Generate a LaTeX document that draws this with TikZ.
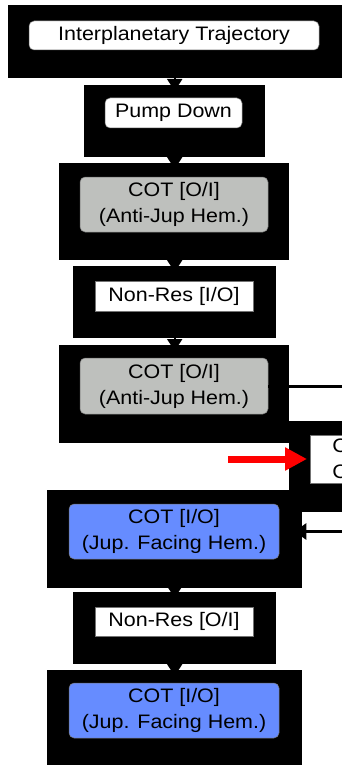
\documentclass[tikz,border=0pt]{standalone}
\usepackage{fontspec}
\setmainfont{Liberation Sans}[FakeStretch=1.1]
\usetikzlibrary{arrows.meta}
\definecolor{hemgrey}{RGB}{190,192,189}
\definecolor{hemblue}{RGB}{102,140,255}
\begin{document}
\begin{tikzpicture}[x=1pt,y=-1pt,
  blk/.style={fill=black, draw=none, inner sep=0pt, anchor=north west},
  txt/.style={font=\fontsize{19.5}{26}\selectfont, align=center, inner sep=0pt},
  rbox/.style={txt, rounded corners=5pt, fill=white, draw=black!55, line width=0.5pt},
  sbox/.style={txt, fill=white, draw=black!55, line width=0.5pt},
  greybox/.style={rbox, fill=hemgrey},
  bluebox/.style={rbox, fill=hemblue},
  flow/.style={line width=2pt, -{Triangle[length=12pt,width=15pt]}, shorten >=-6pt},
  link/.style={line width=3pt},
  back/.style={line width=3pt, -{Triangle[length=12pt,width=16pt]}, shorten >=-8pt},
  jump/.style={red, line width=7pt, -{Triangle[length=22pt,width=22pt]}, shorten >=3pt}]
\useasboundingbox (0,0) rectangle (341,765);

% black backing blocks
\node[blk, minimum width=337, minimum height=73] (b1) at (8,5) {};
\node[blk, minimum width=181, minimum height=72] (b2) at (84,85) {};
\node[blk, minimum width=230, minimum height=97] (b3) at (59,163) {};
\node[blk, minimum width=203, minimum height=72] (b4) at (73,266) {};
\node[blk, minimum width=230, minimum height=98] (b5) at (59,345) {};
\node[blk, minimum width=56,  minimum height=91] (b6) at (289,421) {};
\node[blk, minimum width=255, minimum height=98] (b7) at (47,490) {};
\node[blk, minimum width=203, minimum height=72] (b8) at (73,592) {};
\node[blk, minimum width=255, minimum height=97] (b9) at (47,670) {};

% flow between the stacked blocks
\draw[flow] (b1.south -| b2.north) -- (b2.north);
\draw[flow] (b2.south) -- (b3.north -| b2.south);
\draw[flow] (b3.south -| b4.north) -- (b4.north);
\draw[flow] (b4.south) -- (b5.north -| b4.south);
\draw[flow] (b7.south -| b8.north) -- (b8.north);
\draw[flow] (b8.south) -- (b9.north -| b8.south);

% inner boxes
\node[rbox, minimum width=290, minimum height=29] (n1) at (174,35.5) {Interplanetary Trajectory};
\node[rbox, minimum width=137, minimum height=30] (n2) at (173.5,113) {Pump Down};
\node[greybox, minimum width=188, minimum height=55] (n3) at (174,204.5) {COT [O/I]\\(Anti-Jup Hem.)};
\node[sbox, minimum width=158, minimum height=30] (n4) at (174,296) {Non-Res [I/O]};
\node[greybox, minimum width=188, minimum height=56] (n5) at (174,386) {COT [O/I]\\(Anti-Jup Hem.)};
\node[sbox, anchor=west, minimum height=48, text width=36pt, inner xsep=22pt, align=left] (n6) at (310,459) {C\\C};
\node[bluebox, minimum width=210, minimum height=55] (n7) at (174,531.5) {COT [I/O]\\(Jup. Facing Hem.)};
\node[sbox, minimum width=158, minimum height=29] (n8) at (174,621.5) {Non-Res [O/I]};
\node[bluebox, minimum width=210, minimum height=55] (n9) at (174,710.5) {COT [I/O]\\(Jup. Facing Hem.)};

% side branch and return
\coordinate (out) at (345,386);
\coordinate (ret) at (345,531.5);
\coordinate (rs) at (228,459);
\draw[link] (n5) -- (out);
\draw[back] (ret) -- (ret -| b7.east);
\draw[jump] (rs) -- (n6);
\end{tikzpicture}
\end{document}
